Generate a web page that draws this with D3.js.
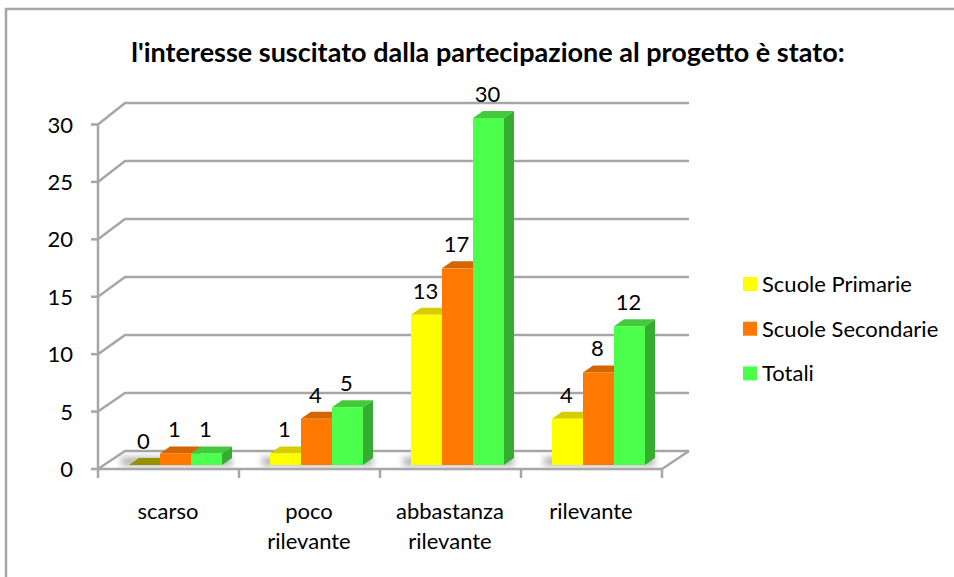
<!DOCTYPE html>
<html><head><meta charset="utf-8">
<style>html,body{margin:0;padding:0;background:#fff}svg{display:block}text{font-family:Lato,"Open Sans",sans-serif;fill:#000}</style>
<script src="https://cdn.jsdelivr.net/npm/d3@7"></script></head><body>
<script>
const categories=["scarso","poco rilevante","abbastanza rilevante","rilevante"];
const categoryLines=[["scarso"],["poco","rilevante"],["abbastanza","rilevante"],["rilevante"]];
const seriesNames=["Scuole Primarie","Scuole Secondarie","Totali"];
const primarie=[0,1,13,4];
const secondarie=[1,4,17,8];
const totali=[1,5,30,12];
const yTicks=[0,5,10,15,20,25,30];
const title="l'interesse suscitato dalla partecipazione al progetto è stato:";
const front=["#ffff00","#ff7900","#4dff4d"];
const side=["#b3b300","#c75f00","#36ad30"];
const topc=["#d6cd00","#d46500","#42c93c"];
const values=[primarie,secondarie,totali];
const W=954,H=577,dx=27;
const svg=d3.select("body").append("svg").attr("width",W).attr("height",H);
const defs=svg.append("defs");
const f=defs.append("filter").attr("id","blur").attr("x","-20%").attr("y","-100%").attr("width","140%").attr("height","300%");
f.append("feGaussianBlur").attr("stdDeviation",3);
svg.append("rect").attr("x",6).attr("y",9).attr("width",960).attr("height",600).attr("fill","#fff").attr("stroke","#a6a6a6").attr("stroke-width",2.5);
svg.append("text").attr("x",488).attr("y",62).attr("text-anchor","middle").attr("font-size",27).attr("font-weight",700).text(title);
const y=d3.scaleLinear().domain([0,30]).range([469,124.5]);
const yBack=d3.scaleLinear().domain([0,30]).range([451,103]);
const x=d3.scaleBand().domain(categories).range([98,662]);
const sub=d3.scaleBand().domain(d3.range(3)).range([31,124]);
const grid="#a6a6a6";
const g=svg.append("g").attr("fill","none").attr("stroke",grid).attr("stroke-width",2.5);
yTicks.forEach(t=>{
  g.append("path").attr("d",`M${x.range()[0]},${y(t)}L${x.range()[0]+dx},${yBack(t)}H${x.range()[1]+dx}`);
});
g.append("path").attr("d",`M${x.range()[1]},${y(0)}L${x.range()[1]+dx},${yBack(0)}`);
g.append("path").attr("d",`M${x.range()[0]},${y(0)}H${x.range()[1]}`);
const ax=svg.append("g").attr("stroke",grid).attr("stroke-width",2.5);
ax.append("line").attr("x1",98).attr("x2",98).attr("y1",y(30)).attr("y2",y(0));
yTicks.forEach(t=>{
  ax.append("line").attr("x1",91).attr("x2",98).attr("y1",y(t)).attr("y2",y(t));
  svg.append("text").attr("x",73).attr("y",y(t)+8).attr("text-anchor","end").attr("font-size",22).text(t);
});
[...categories.map(c=>x(c)),x.range()[1]].forEach(px=>{
  ax.append("line").attr("x1",px).attr("x2",px).attr("y1",y(0)).attr("y2",y(0)+9);
});
categories.forEach((c,i)=>{
  const t=svg.append("text").attr("text-anchor","middle").attr("font-size",22);
  categoryLines[i].forEach((l,j)=>t.append("tspan").attr("x",x(c)+x.bandwidth()/2-0.5).attr("y",519+j*30).text(l));
});
const base=465, bv=v=>v*347/30;
categories.forEach((c,i)=>{
  const x0=x(c)+sub(0), w=sub.bandwidth();
  svg.append("rect").attr("x",x0-8).attr("y",base-8).attr("width",w*3+18).attr("height",9).attr("fill","#b5b5b5").attr("filter","url(#blur)");
});
categories.forEach((c,i)=>{
  values.forEach((vals,s)=>{
    const v=vals[i],w=sub.bandwidth(),bx=x(c)+sub(s),h=bv(v),tp=base-h;
    const d=svg.append("g");
    d.append("path").attr("d",`M${bx+w},${base}l10,-7V${tp-7}l-10,7Z`).attr("fill",side[s]);
    d.append("path").attr("d",`M${bx},${tp}l10,-7h${w}l-10,7Z`).attr("fill",v===0?"#949000":topc[s]);
    if(v>0)d.append("rect").attr("x",bx).attr("y",tp).attr("width",w).attr("height",h).attr("fill",front[s]);
    svg.append("text").attr("x",bx+w/2-1).attr("y",tp-16).attr("text-anchor","middle").attr("font-size",22).text(v);
  });
});
seriesNames.forEach((n,i)=>{
  const ly=284+i*44.7;
  svg.append("rect").attr("x",743).attr("y",ly-7).attr("width",14).attr("height",14).attr("fill",front[i]);
  svg.append("text").attr("x",762).attr("y",ly+8).attr("font-size",22).text(n);
});
</script></body></html>
